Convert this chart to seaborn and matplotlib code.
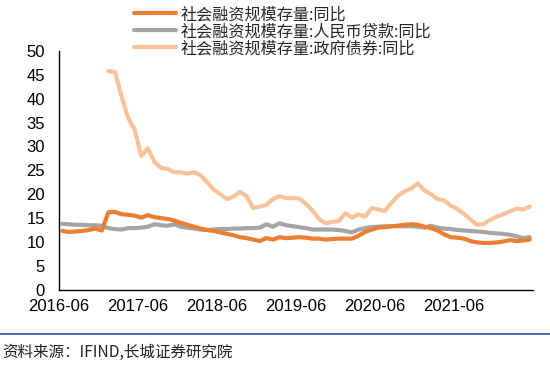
import numpy as np
import pandas as pd
import matplotlib
matplotlib.use("Agg")
import matplotlib.pyplot as plt
import seaborn as sns
from matplotlib.lines import Line2D

# ---- data (monthly, 2016-06 .. 2022-05) ----
start_month = "2016-06"
n_months = 72
tick_labels = ["2016-06", "2017-06", "2018-06", "2019-06", "2020-06", "2021-06", ""]

name_tsf = "社会融资规模存量:同比"
name_loan = "社会融资规模存量:人民币贷款:同比"
name_bond = "社会融资规模存量:政府债券:同比"

tsf_yoy = [12.3, 12.1, 12.2, 12.3, 12.5, 12.8, 12.4, 16.2, 16.3, 15.8, 15.7, 15.5,
           15.1, 15.6, 15.2, 15.0, 14.8, 14.5, 14.0, 13.6, 13.2, 12.8, 12.5, 12.3,
           12.0, 11.7, 11.4, 11.0, 10.8, 10.5, 10.2, 10.8, 10.5, 11.0, 10.8, 10.9,
           11.0, 10.9, 10.7, 10.7, 10.5, 10.6, 10.7, 10.7, 10.7, 11.3, 12.1, 12.6,
           13.0, 13.1, 13.3, 13.4, 13.6, 13.7, 13.6, 13.2, 12.9, 12.4, 11.6, 11.0,
           10.9, 10.7, 10.2, 9.9, 9.8, 9.8, 9.9, 10.1, 10.4, 10.2, 10.3, 10.5]

loan_yoy = [13.8, 13.7, 13.6, 13.6, 13.5, 13.5, 13.4, 12.9, 12.7, 12.6, 12.9, 12.9,
            13.0, 13.2, 13.7, 13.5, 13.4, 13.7, 13.2, 13.0, 12.8, 12.6, 12.5, 12.6,
            12.7, 12.7, 12.8, 12.8, 12.9, 12.9, 13.0, 13.7, 13.2, 13.9, 13.5, 13.3,
            13.1, 12.9, 12.6, 12.6, 12.6, 12.6, 12.5, 12.3, 12.0, 12.6, 12.9, 13.1,
            13.2, 13.3, 13.3, 13.3, 13.3, 13.3, 13.2, 13.0, 13.4, 13.0, 12.8, 12.7,
            12.5, 12.4, 12.3, 12.2, 12.1, 11.9, 11.8, 11.7, 11.5, 11.2, 10.8, 11.0]

bond_start_index = 7  # series begins 2017-01
bond_yoy = [45.8, 45.6, 40.5, 36.0, 33.5, 28.0, 29.6, 26.8, 25.5, 25.3, 24.6, 24.6,
            24.3, 24.6, 24.0, 22.5, 21.0, 20.0, 19.0, 19.5, 20.5, 19.6, 17.1, 17.4,
            17.8, 19.0, 19.6, 19.2, 19.2, 19.1, 18.0, 16.6, 14.8, 13.9, 14.2, 14.4,
            16.0, 15.1, 15.8, 15.3, 17.1, 16.8, 16.5, 18.2, 19.7, 20.6, 21.2, 22.3,
            20.8, 20.0, 19.0, 18.7, 17.6, 16.9, 15.9, 14.7, 13.6, 13.8, 14.6, 15.3,
            15.8, 16.4, 17.0, 16.8, 17.4]

colors = {name_tsf: "#ED7D31", name_loan: "#A5A5A5", name_bond: "#F8C39B"}

# ---- build long table ----
months = pd.period_range(start_month, periods=n_months, freq="M")
pos = np.arange(n_months) + 0.5
frames = [
    pd.DataFrame({"pos": pos, "value": tsf_yoy, "series": name_tsf}),
    pd.DataFrame({"pos": pos, "value": loan_yoy, "series": name_loan}),
    pd.DataFrame({"pos": pos[bond_start_index:bond_start_index + len(bond_yoy)],
                  "value": bond_yoy, "series": name_bond}),
]
df = pd.concat(frames, ignore_index=True)

sns.set_style("white")
plt.rcParams["font.family"] = ["Noto Sans CJK SC", "DejaVu Sans"]

fig = plt.figure(figsize=(5.5, 3.7), dpi=100)
ax = fig.add_axes([59 / 550, 1 - 289.7 / 370, (533 - 59) / 550, (289.7 - 51) / 370])

order = [name_bond, name_loan, name_tsf]
sns.lineplot(data=df, x="pos", y="value", hue="series", hue_order=order,
             palette=colors, linewidth=3.0, legend=False, ax=ax, sort=False)

ax.set_xlim(0, n_months)
ax.set_ylim(0, 50)
ax.set_yticks(np.arange(0, 51, 5))
ax.set_xticks(np.arange(0, n_months + 1, 12))
ax.set_xticklabels(tick_labels)
ax.set_xlabel("")
ax.set_ylabel("")
for s in ["top", "right"]:
    ax.spines[s].set_visible(False)
for s in ["left", "bottom"]:
    ax.spines[s].set_color("black")
    ax.spines[s].set_linewidth(1.0)
ax.tick_params(axis="both", direction="in", length=4, width=1, color="black",
               labelsize=12, labelcolor="black")
for lab in ax.get_xticklabels() + ax.get_yticklabels():
    lab.set_family(["Liberation Sans", "DejaVu Sans"])
ax.tick_params(axis="y", pad=10)
ax.tick_params(axis="x", pad=7)

# legend
handles = [Line2D([], [], color=colors[n], linewidth=3.0) for n in [name_tsf, name_loan, name_bond]]
fig.legend(handles, [name_tsf, name_loan, name_bond], loc="upper left",
           bbox_to_anchor=(134 / 550, 1 - 6 / 370), frameon=False,
           prop={"family": ["Noto Sans CJK SC", "DejaVu Sans"], "size": 11.6},
           handlelength=2.6, handletextpad=0.3, labelspacing=0.0,
           borderaxespad=0, borderpad=0)

# separator line and source note
fig.add_artist(Line2D([0, 1], [1 - 333.5 / 370, 1 - 333.5 / 370],
                      transform=fig.transFigure, color="#2F5597", linewidth=1.2))
fig.text(2 / 550, 1 - 352 / 370, "资料来源：IFIND,长城证券研究院",
         ha="left", va="center", fontsize=11.2, color="#222222",
         family=["Noto Sans CJK SC", "DejaVu Sans"])

fig.savefig("out.png", dpi=100)
